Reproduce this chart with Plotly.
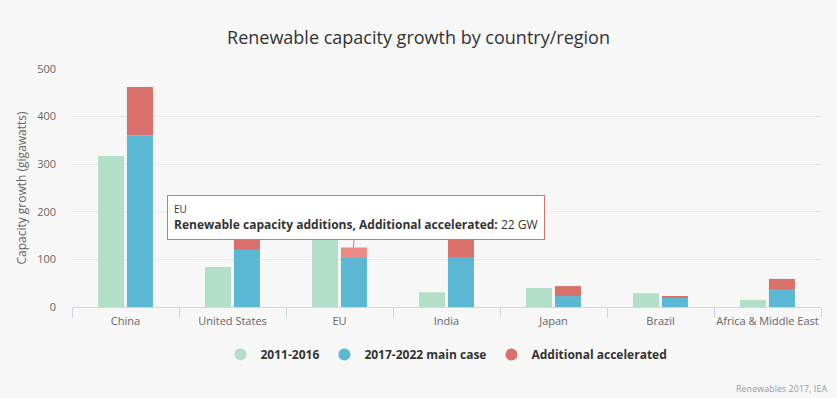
import plotly.graph_objects as go

categories = ["China", "United States", "EU", "India", "Japan", "Brazil", "Africa & Middle East"]
hist_2011_2016 = [317, 84, 158, 31, 40, 29, 15]
main_2017_2022 = [361, 120, 103, 105, 23, 19, 36]
additional_acc = [101, 35, 22, 42, 21, 4, 23]
series_names = ["2011-2016", "2017-2022 main case", "Additional accelerated"]
colors = ["#b3dfc9", "#5bb8d4", "#d9706b"]
hover_color = "#ec8a84"
title_text = "Renewable capacity growth by country/region"
y_title = "Capacity growth (gigawatts)"
credit_text = "Renewables 2017, IEA"
y_ticks = [0, 100, 200, 300, 400, 500]

hover_idx = categories.index("EU")
add_colors = [hover_color if i == hover_idx else colors[2] for i in range(len(categories))]

fig = go.Figure()
fig.add_trace(go.Bar(x=categories, y=hist_2011_2016, name=series_names[0],
                     marker=dict(color=colors[0], line=dict(width=0)),
                     offsetgroup="a", showlegend=False))
fig.add_trace(go.Bar(x=categories, y=main_2017_2022, name=series_names[1],
                     marker=dict(color=colors[1], line=dict(width=0)),
                     offsetgroup="b", showlegend=False))
fig.add_trace(go.Bar(x=categories, y=additional_acc, base=main_2017_2022, name=series_names[2],
                     marker=dict(color=add_colors, line=dict(width=0)),
                     offsetgroup="b", showlegend=False))
# legend entries with circle symbols
for n, c in zip(series_names, colors):
    fig.add_trace(go.Scatter(x=[None], y=[None], mode="markers", name="<b>" + n + "</b>",
                             marker=dict(symbol="circle", size=12, color=c), showlegend=True))

font_family = "Open Sans, DejaVu Sans, sans-serif"

fig.update_layout(
    width=837, height=398,
    paper_bgcolor="#f7f7f7", plot_bgcolor="#f7f7f7",
    margin=dict(l=72, r=16, t=69, b=91, autoexpand=False),
    barmode="group", bargap=0.46, bargroupgap=0.1,
    font=dict(family=font_family, color="#666666", size=11),
    title=dict(text=title_text, x=0.5, xanchor="center", y=1 - 38 / 398, yanchor="middle",
               font=dict(size=18, color="#333333", family=font_family)),
    showlegend=True,
    legend=dict(orientation="h", x=0.5, xanchor="center", y=-0.2, yanchor="middle",
                font=dict(size=12, color="#333333"), bgcolor="rgba(0,0,0,0)",
                itemsizing="constant"),
    xaxis=dict(type="category", showgrid=False, showline=True, linecolor="#ccd6eb", linewidth=1,
               ticks="outside", tickson="boundaries", ticklen=10, tickcolor="#ccd6eb",
               tickangle=0, automargin=False, ticklabelstandoff=4,
               tickfont=dict(size=11, color="#666666")),
    yaxis=dict(range=[0, 500], tickvals=y_ticks, showgrid=True, gridcolor="#e6e6e6",
               zeroline=False, showline=False, ticks="", ticklabelstandoff=15, automargin=False,
               tickfont=dict(size=11, color="#666666"),
               title=dict(text=y_title, font=dict(size=12, color="#666666"), standoff=7)),
    annotations=[
        dict(x=categories[hover_idx], y=main_2017_2022[hover_idx] + additional_acc[hover_idx],
             xref="x", yref="y", xshift=14,
             text="<span style='font-size:10px'>" + categories[hover_idx] + "</span>"
                  + "<br><b>Renewable capacity additions, " + series_names[2]
                  + ":</b> " + str(additional_acc[hover_idx]) + " GW",
             showarrow=True, arrowhead=0, arrowwidth=1, arrowcolor="#d9736e",
             ax=2, ay=-30, align="left", bgcolor="#ffffff", bordercolor="#d9736e",
             borderwidth=1, borderpad=6, font=dict(size=12, color="#333333")),
        dict(x=1, y=0, xref="paper", yref="paper", xanchor="right", yanchor="middle",
             xshift=8, yshift=-81, text=credit_text, showarrow=False,
             font=dict(size=9, color="#999999")),
    ],
)

fig.write_html("out.html", config={"displayModeBar": False},
               post_script="document.body.style.margin='0';")
